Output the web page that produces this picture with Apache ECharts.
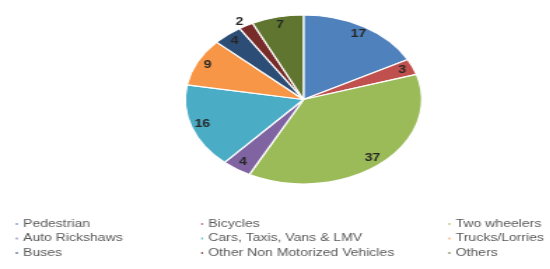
<!DOCTYPE html>
<html><head><meta charset="utf-8">
<script src="https://cdn.jsdelivr.net/npm/echarts@6/dist/echarts.min.js"></script>
<style>html,body{margin:0;padding:0;background:#fff;overflow:hidden;width:550px;height:269px}
#c{width:393px;height:269px;transform:scaleX(1.4);transform-origin:0 0}</style>
</head><body><div id="c"></div>
<script>
var categories = ['Pedestrian','Bicycles','Two wheelers','Auto Rickshaws','Cars, Taxis, Vans & LMV','Trucks/Lorries','Buses','Other Non Motorized Vehicles','Others'];
var values = [17, 3, 37, 4, 16, 9, 4, 2, 7];
var colors = ['#4F81BD','#C0504D','#9BBB59','#8064A2','#4BACC6','#F79646','#2C4D75','#772C2A','#5F7530'];
var legendCol1 = ['Pedestrian','Auto Rickshaws','Buses'];
var legendCol2 = ['Bicycles','Cars, Taxis, Vans & LMV','Other Non Motorized Vehicles'];
var legendCol3 = ['Two wheelers','Trucks/Lorries','Others'];

var CENTER = [216.8, 99.5], R = 84.5;

var sliceData = categories.map(function(n, i){ return {name:n, value:values[i]}; });
var labelData = categories.map(function(n, i){
  var d = {name:n, value:values[i]};
  if (values[i] < 3) {
    d.label = {position:'outside', distanceToLabelLine:0};
    d.labelLine = {show:false, length:4, length2:0};
  }
  return d;
});

function legend(data, left){
  return {data:data, orient:'vertical', left:left, top:218, height:52, padding:0,
    itemWidth:3, itemHeight:4, itemGap:2.5, icon:'rect',
    textStyle:{color:'#595959', fontSize:10, lineHeight:12, padding:[0,0,0,-2], fontFamily:'"Liberation Sans", Arial, sans-serif'},
    selectedMode:false};
}

var chart = echarts.init(document.getElementById('c'), null, {renderer:'canvas'});
chart.setOption({
  animation:false,
  color: colors,
  legend:[legend(legendCol1, 9.5), legend(legendCol2, 141.8), legend(legendCol3, 318.5)],
  series: [
    {type:'pie', center:CENTER, radius:[0, R], startAngle:90, clockwise:true,
      avoidLabelOverlap:false, silent:true, legendHoverLink:false,
      itemStyle:{borderColor:'#fff', borderWidth:1.2},
      label:{show:false}, labelLine:{show:false}, data:sliceData},
    {type:'pie', center:CENTER, radius:[R*0.74, R], startAngle:90, clockwise:true,
      avoidLabelOverlap:false, silent:true, legendHoverLink:false,
      itemStyle:{color:'rgba(0,0,0,0)', borderWidth:0},
      label:{show:true, position:'inside', formatter:'{c}', color:'#262626', fontWeight:'bold', fontSize:10,
        fontFamily:'"Liberation Sans", Arial, sans-serif'},
      data:labelData}
  ]
});
</script></body></html>
